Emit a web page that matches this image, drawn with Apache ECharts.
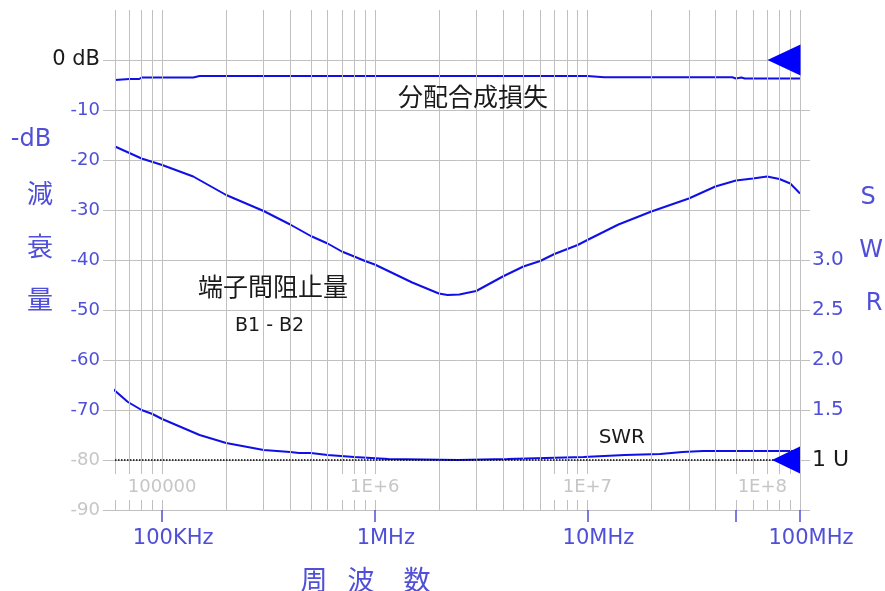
<!DOCTYPE html>
<html>
<head>
<meta charset="utf-8">
<script src="https://cdn.jsdelivr.net/npm/echarts@6/dist/echarts.min.js"></script>
<style>
html,body{margin:0;padding:0;background:#fff;}
#chart{width:885px;height:591px;}
</style>
</head>
<body>
<div id="chart"></div>
<script>
// ---- data (frequency in Hz) ----
const lossFreq = [6e4, 7e4, 7.8e4, 8e4, 1.4e5, 1.5e5, 1e6, 1e7, 1.2e7, 4.8e7, 5e7, 5.3e7, 5.5e7, 1e8];
const lossDb   = [-4.0, -3.8, -3.8, -3.5, -3.5, -3.2, -3.2, -3.2, -3.45, -3.45, -3.7, -3.5, -3.7, -3.7];

const isoFreq = [6e4, 8e4, 1e5, 1.4e5, 2e5, 3e5, 4e5, 5e5, 6e5, 7e5, 8e5, 9e5, 1e6, 1.5e6, 2e6, 2.2e6, 2.5e6, 2.7e6, 3e6, 4e6, 5e6, 6e6, 7e6, 9e6, 1e7, 1.4e7, 2e7, 3e7, 4e7, 5e7, 6e7, 7e7, 8e7, 9e7, 1e8];
const isoDb   = [-17.3, -19.7, -21.0, -23.3, -27.0, -30.2, -32.9, -35.2, -36.7, -38.3, -39.3, -40.2, -40.9, -44.5, -46.7, -47.0, -46.9, -46.6, -46.2, -43.3, -41.3, -40.2, -38.8, -37.0, -36.0, -32.9, -30.3, -27.7, -25.3, -24.1, -23.7, -23.3, -23.8, -24.7, -26.7];

const swrFreq = [5.45e4, 6.9e4, 8e4, 9e4, 1e5, 1.5e5, 2e5, 3e5, 4e5, 4.4e5, 5e5, 6e5, 8e5, 1.16e6, 2.46e6, 4.2e6, 9.6e6, 1.5e7, 2.2e7, 2.8e7, 3.5e7, 7e7, 1e8];
const swrVal  = [1.77, 1.58, 1.50, 1.46, 1.41, 1.25, 1.17, 1.10, 1.08, 1.07, 1.07, 1.05, 1.03, 1.01, 1.00, 1.01, 1.03, 1.05, 1.06, 1.08, 1.09, 1.09, 1.09];

// grid / tick values
const gridFreqs = [6e4,7e4,8e4,9e4,1e5,2e5,3e5,4e5,5e5,6e5,7e5,8e5,9e5,1e6,2e6,3e6,4e6,5e6,6e6,7e6,8e6,9e6,1e7,2e7,3e7,4e7,5e7,6e7,7e7,8e7,9e7,1e8];
const decadeFreqs = [1e5, 1e6, 1e7, 1e8];
const decadeNames = ['100KHz', '1MHz', '10MHz', '100MHz'];
const decadeSci = ['100000', '1E+6', '1E+7', '1E+8'];
const xTickFreqs = [1e5, 1e6, 1e7, 5e7, 1e8];
const swrLabelVals = [1, 1.5, 2, 2.5, 3];
const swrTickVals = [0.5, 1, 1.5, 2, 2.5, 3, 3.5, 4, 4.5];
const dbTickVals = [-90, -80, -70, -60, -50, -40, -30, -20, -10, 0];

const BLUE = '#4f4fd8';
const CURVE = '#1010e6';
const GRID = '#c0c0c0';
const LIGHT = '#c6c6c6';
const DARK = '#1a1a1a';
const LATIN = 'DejaVu Sans';
const CJK = '"Noto Sans CJK JP"';

function pairs(xs, ys) { return xs.map((x, i) => [x, ys[i]]); }
function nameOf(list, names, v) {
  for (let i = 0; i < list.length; i++) {
    if (Math.abs(Math.log10(v) - Math.log10(list[i])) < 1e-6) return names[i];
  }
  return '';
}

function txt(text, x, y, size, color, family, align) {
  return {
    type: 'text', x: x, y: y, z: 100,
    style: {
      text: text, fill: color, fontSize: size, fontFamily: family,
      align: align || 'center', textAlign: align || 'center',
      verticalAlign: 'middle', textVerticalAlign: 'middle'
    }
  };
}

const chart = echarts.init(document.getElementById('chart'), null, {renderer: 'canvas'});
const option = {
  animation: false,
  backgroundColor: '#ffffff',
  grid: {left: 115, right: 85, top: 10, bottom: 81},
  xAxis: [
    {
      type: 'log', logBase: 10, min: 6e4, max: 1e8, position: 'bottom',
      axisLine: {show: true, onZero: false, lineStyle: {color: GRID, width: 1}},
      axisTick: {show: true, customValues: xTickFreqs, length: 12, lineStyle: {color: BLUE, width: 1.5}},
      axisLabel: {
        customValues: decadeFreqs,
        formatter: v => nameOf(decadeFreqs, decadeNames, v),
        color: BLUE, fontSize: 21, fontFamily: LATIN, margin: 18, padding: [0, 0, 0, 22]
      },
      splitLine: {show: false}, minorTick: {show: false}, minorSplitLine: {show: false}
    },
    {
      type: 'log', logBase: 10, min: 6e4, max: 1e8, position: 'bottom', z: 10,
      axisLine: {show: false, onZero: false}, axisTick: {show: false}, splitLine: {show: false},
      axisLabel: {
        inside: true, customValues: decadeFreqs,
        formatter: v => nameOf(decadeFreqs, decadeSci, v),
        color: LIGHT, fontSize: 18, fontFamily: LATIN,
        backgroundColor: '#ffffff', padding: [4, 13, 4, 13], margin: 10,
        alignMaxLabel: 'right'
      }
    }
  ],
  yAxis: [
    {
      type: 'value', min: -90, max: 10, interval: 10, position: 'left',
      axisLine: {show: false, onZero: false},
      axisTick: {show: true, customValues: dbTickVals, length: 12, lineStyle: {color: GRID}},
      splitLine: {show: true, lineStyle: {color: GRID, width: 1}},
      axisLabel: {
        margin: 15, fontSize: 18, fontFamily: LATIN,
        formatter: v => (v === 10 ? '' : (v === 0 ? '{z|0 dB}' : String(v))),
        color: v => (Number(v) <= -80 ? LIGHT : BLUE),
        rich: {z: {fontSize: 21, color: DARK, fontFamily: LATIN}}
      }
    },
    {
      type: 'value', min: 0.5, max: 5.5, interval: 0.5, position: 'right',
      axisLine: {show: false, onZero: false}, splitLine: {show: false},
      axisTick: {show: true, customValues: swrTickVals, length: 10, lineStyle: {color: GRID}},
      axisLabel: {
        customValues: swrLabelVals, margin: 12, fontSize: 20, fontFamily: LATIN, color: BLUE,
        formatter: v => (Number(v) === 1 ? '{u|1 U}' : Number(v).toFixed(1)),
        rich: {u: {fontSize: 22, color: DARK, fontFamily: LATIN}}
      }
    }
  ],
  series: [
    {
      name: 'grid', type: 'line', data: [], z: 1, silent: true,
      markLine: {
        silent: true, animation: false, symbol: ['none', 'none'],
        label: {show: false}, emphasis: {disabled: true},
        lineStyle: {color: GRID, type: 'solid', width: 1},
        data: gridFreqs.map(f => ({xAxis: f}))
      }
    },
    {
      name: '分配合成損失', type: 'line', data: pairs(lossFreq, lossDb),
      xAxisIndex: 0, yAxisIndex: 0, symbol: 'none', z: 3,
      lineStyle: {color: CURVE, width: 2},
      markPoint: {
        silent: true, animation: false,
        data: [{coord: [1e8, 0], symbol: 'triangle', symbolSize: [31, 33], symbolRotate: 90, symbolOffset: [-16, 0],
                itemStyle: {color: '#0000ff'}, label: {show: false}}]
      }
    },
    {
      name: '端子間阻止量', type: 'line', data: pairs(isoFreq, isoDb),
      xAxisIndex: 0, yAxisIndex: 0, symbol: 'none', z: 3,
      lineStyle: {color: CURVE, width: 2}
    },
    {
      name: 'SWR', type: 'line', data: pairs(swrFreq, swrVal),
      xAxisIndex: 0, yAxisIndex: 1, symbol: 'none', z: 3, clip: false,
      lineStyle: {color: CURVE, width: 2},
      markLine: {
        silent: true, animation: false, symbol: ['none', 'none'], label: {show: false},
        lineStyle: {color: '#000000', type: 'dotted', width: 1.5},
        data: [{yAxis: 1}]
      },
      markPoint: {
        silent: true, animation: false,
        data: [{coord: [1e8, 1], symbol: 'triangle', symbolSize: [27, 28], symbolRotate: 90, symbolOffset: [-14, 0],
                itemStyle: {color: '#0000ff'}, label: {show: false}}]
      }
    }
  ],
  graphic: [
    txt('-dB', 31, 140, 24, BLUE, LATIN),
    txt('減', 40, 193, 26, BLUE, CJK),
    txt('衰', 40, 246, 26, BLUE, CJK),
    txt('量', 40, 299, 26, BLUE, CJK),
    txt('S', 868, 198, 24, BLUE, LATIN),
    txt('W', 871, 251, 24, BLUE, LATIN),
    txt('R', 874, 304, 24, BLUE, LATIN),
    txt('周', 314, 580, 27, BLUE, CJK),
    txt('波', 361, 580, 27, BLUE, CJK),
    txt('数', 417, 580, 27, BLUE, CJK),
    txt('分配合成損失', 398, 96, 25, DARK, CJK, 'left'),
    txt('端子間阻止量', 198, 286, 25, DARK, CJK, 'left'),
    txt('B1 - B2', 235, 326, 19, DARK, LATIN, 'left'),
    txt('SWR', 645, 438, 20, DARK, LATIN, 'right')
  ]
};
chart.setOption(option);
</script>
</body>
</html>
